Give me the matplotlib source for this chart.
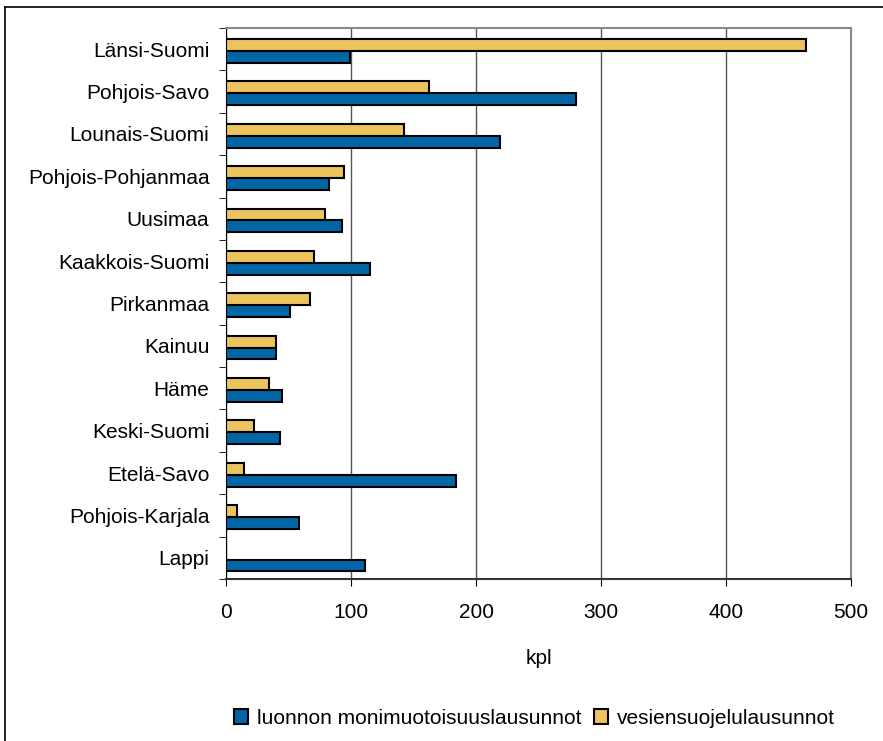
import numpy as np
import matplotlib.pyplot as plt
from matplotlib.lines import Line2D
from matplotlib.ticker import FixedLocator, NullFormatter

plt.rcParams['font.family'] = ['Liberation Sans', 'DejaVu Sans']

regions = ["Länsi-Suomi", "Pohjois-Savo", "Lounais-Suomi", "Pohjois-Pohjanmaa",
           "Uusimaa", "Kaakkois-Suomi", "Pirkanmaa", "Kainuu", "Häme",
           "Keski-Suomi", "Etelä-Savo", "Pohjois-Karjala", "Lappi"]
luonto = [99, 280, 219, 82, 93, 115, 51, 40, 45, 43, 184, 58, 111]
vesi = [464, 162, 142, 94, 79, 70, 67, 40, 34, 22, 14, 9, 0]

blue = "#0066A6"
yellow = "#ECC45E"

fig = plt.figure(figsize=(8.83, 7.41), dpi=100)
ax = fig.add_axes([0.256, 0.2186, 0.7077, 0.7436])

y = np.arange(len(regions)) + 0.04  # pair sits a little below the centre
h = 0.28
ax.barh(y + h / 2, luonto, height=h, color=blue, edgecolor="black", lw=1.5,
        label="luonnon monimuotoisuuslausunnot", zorder=3)
ax.barh(y - h / 2, vesi, height=h, color=yellow, edgecolor="black", lw=1.5,
        label="vesiensuojelulausunnot", zorder=3)

ax.set_xlim(0, 500)
ax.set_ylim(len(regions) - 0.5, -0.5)
ax.set_xticks([0, 100, 200, 300, 400, 500])
ax.tick_params(axis="x", labelsize=15, length=5, direction="out", pad=12)
ax.xaxis.grid(True, color="#555555", lw=1, zorder=0)

# category labels centred, ticks between categories
ax.set_yticks(np.arange(len(regions)))
ax.set_yticklabels(regions, fontsize=15)
ax.tick_params(axis="y", which="major", length=0, pad=12)
ax.yaxis.set_minor_locator(FixedLocator(np.arange(-0.5, len(regions), 1)))
ax.yaxis.set_minor_formatter(NullFormatter())
ax.tick_params(axis="y", which="minor", length=5, direction="out")

ax.set_xlabel("kpl", fontsize=15, labelpad=20)

for s in ["top", "right"]:
    ax.spines[s].set_color("#888888")
    ax.spines[s].set_linewidth(1.5)
ax.spines["left"].set_color("black")
ax.spines["bottom"].set_color("#333333")
ax.spines["bottom"].set_linewidth(1.5)

handles, labels = ax.get_legend_handles_labels()
fig.legend(handles, labels, loc="center", bbox_to_anchor=(0.605, 0.031), ncol=2,
           frameon=False, fontsize=15, handlelength=0.7, handleheight=0.7,
           handletextpad=0.4, columnspacing=0.6)

# outer chart frame
fig.add_artist(Line2D([0.006, 1.0], [0.9905, 0.9905], color="black", lw=1.2))
fig.add_artist(Line2D([0.006, 0.006], [0.0, 0.9905], color="black", lw=1.2))

fig.savefig("out.png", dpi=100)
